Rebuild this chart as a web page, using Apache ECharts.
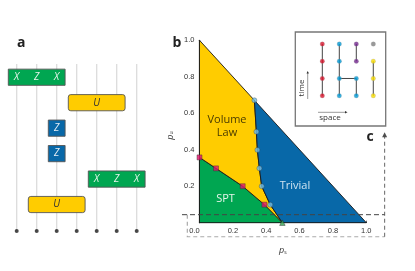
<!DOCTYPE html>
<html><head><meta charset="utf-8">
<style>html,body{margin:0;padding:0;background:#fff}#c{width:415px;height:271px}</style>
<script src="https://cdn.jsdelivr.net/npm/echarts@6/dist/echarts.min.js"></script>
</head><body><div id="c"></div>
<script>
const FONT = '"Open Sans", sans-serif';
const TICKFONT = '"Liberation Sans", sans-serif';
const gateStart = [0, 3, 2, 2, 4, 1];
const gateEnd = [2, 5, 2, 2, 6, 3];
const gateLayer = [0, 1, 2, 3, 4, 5];
const gateKind = ['XZX', 'U', 'Z', 'Z', 'XZX', 'U'];
const wires = [0, 1, 2, 3, 4, 5, 6];
const KIND_COLOR = { XZX: '#00a651', U: '#ffcc00', Z: '#0868a8' };

const volTrivPs = [0.329, 0.341, 0.347, 0.359, 0.373, 0.424];
const volTrivPu = [0.671, 0.499, 0.399, 0.298, 0.200, 0.099];
const sptVolPs = [0.0, 0.099, 0.259, 0.389];
const sptVolPu = [0.358, 0.298, 0.200, 0.099];
const triplePs = [0.497];
const triplePu = [0.0];
const cutPu = 0.044;
const cutLeftPs = -0.105;
const cutRightPs = 1.11;
const boxLeftPs = -0.073;
const boxBottomPu = -0.077;
const arrowTopPu = 0.47;

const insetCols = [0, 0, 0, 0, 1, 1, 1, 1, 2, 2, 2, 2, 3, 3, 3, 3];
const insetRows = [3, 2, 1, 0, 3, 2, 1, 0, 3, 2, 1, 0, 3, 2, 1, 0];
const insetColors = ['#d8132b','#d8132b','#d8132b','#d8132b','#0098d4','#0098d4','#0098d4','#0098d4','#73278f','#73278f','#0098d4','#0098d4','#808080','#f7dc00','#f7dc00','#f7dc00'];
const insetLinks = [[0,0,0,3],[1,0,1,3],[2,2,2,3],[2,0,2,1],[1,1,2,1],[3,0,3,2]];

const chart = echarts.init(document.getElementById('c'), null, { renderer: 'canvas' });

const zip = (a, b) => a.map((v, i) => [v, b[i]]);
const vt = zip(volTrivPs, volTrivPu);
const sv = zip(sptVolPs, sptVolPu);
const tp = [triplePs[0], triplePu[0]];
const polyGreen = [[0, 0], tp, ...sv.slice().reverse()];
const polyYellow = [[0, 1], ...vt, tp, ...sv.slice().reverse()];
const polyBlue = [...vt, tp, [1, 0]];

function poly(color, pts, z) {
  return {
    type: 'custom', xAxisIndex: 0, yAxisIndex: 0, z, silent: true, clip: false,
    coordinateSystem: 'cartesian2d', data: [0],
    renderItem: (p, api) => ({
      type: 'polygon',
      shape: { points: pts.map(q => api.coord(q)) },
      style: { fill: color, stroke: '#1a1a1a', lineWidth: 0.9 }
    })
  };
}
function dashed(pts, color, w, z, dash) {
  return {
    type: 'custom', xAxisIndex: 0, yAxisIndex: 0, z, silent: true, clip: false, data: [0],
    renderItem: (p, api) => ({
      type: 'polyline',
      shape: { points: pts.map(q => api.coord(q)) },
      style: { stroke: color, lineWidth: w, lineDash: dash, fill: null }
    })
  };
}

const axisText = { color: '#333', fontSize: 7.5, fontFamily: TICKFONT };
const hidden = { show: false };

const option = {
  animation: false,
  backgroundColor: '#fff',
  grid: [
    { left: 199.5, top: 40.3, width: 166.8, height: 182.4, show: false },
    { left: 16.7, top: 64, width: 120, height: 167, show: false },
    { left: 295.3, top: 32, width: 90.4, height: 94, show: true, borderColor: '#777', borderWidth: 1.3, backgroundColor: '#fff' }
  ],
  xAxis: [
    { gridIndex: 0, type: 'value', min: 0, max: 1, interval: 0.2, splitLine: hidden, axisLine: { show: true, onZero: false, lineStyle: { color: '#222', width: 1.2 } },
      axisTick: { show: true, inside: true, length: 2, lineStyle: { color: '#222', width: 0.7 } },
      axisLabel: { ...axisText, margin: 4, formatter: v => v === 0 ? '{z|0.0}' : v.toFixed(1),
        rich: { z: { ...axisText, padding: [0, 10, 0, 0] } } },
      name: '{p|p}{s|s}', nameLocation: 'middle', nameGap: 23,
      nameTextStyle: { rich: { p: { fontSize: 9, fontStyle: 'italic', color: '#333', fontFamily: FONT }, s: { fontSize: 5, color: '#333', fontFamily: FONT, verticalAlign: 'bottom', padding: [4, 0, 0, 0] } } } },
    { gridIndex: 1, type: 'value', min: 0, max: 6, show: false },
    { gridIndex: 2, type: 'value', min: -1.59, max: 3.73, show: false }
  ],
  yAxis: [
    { gridIndex: 0, type: 'value', min: 0, max: 1, interval: 0.2, splitLine: hidden, axisLine: { show: true, onZero: false, lineStyle: { color: '#222', width: 1.2 } },
      axisTick: { show: false },
      axisLabel: { ...axisText, margin: 5, formatter: v => v === 0 ? '' : v.toFixed(1) },
      name: '{p|p}{s|u}', nameLocation: 'middle', nameGap: 25, nameRotate: 90,
      nameTextStyle: { padding: [0, 8, 0, 0], rich: { p: { fontSize: 9, fontStyle: 'italic', color: '#333', fontFamily: FONT }, s: { fontSize: 5, color: '#333', fontFamily: FONT, padding: [4, 0, 0, 0] } } } },
    { gridIndex: 1, type: 'value', min: -0.52, max: 6.04, inverse: true, show: false },
    { gridIndex: 2, type: 'value', min: -1.76, max: 3.7, show: false }
  ],
  series: [
    { type: 'custom', xAxisIndex: 1, yAxisIndex: 1, z: 1, silent: true, clip: false, data: wires,
      renderItem: (p, api) => {
        const a = api.coord([api.value(0), -0.52]);
        const b = api.coord([api.value(0), 6.04]);
        return { type: 'line', shape: { x1: a[0], y1: a[1], x2: b[0], y2: b[1] }, style: { stroke: '#dcdcdc', lineWidth: 1.3 } };
      } },
    { type: 'scatter', xAxisIndex: 1, yAxisIndex: 1, z: 2, silent: true, clip: false, symbolSize: 4,
      itemStyle: { color: '#1c1c1c' }, data: wires.map(w => [w, 6.04]) },
    { type: 'custom', xAxisIndex: 1, yAxisIndex: 1, z: 3, silent: true, clip: false, data: gateStart.map((s, i) => i),
      renderItem: (p, api) => {
        const i = api.value(0);
        const kind = gateKind[i];
        const l = api.coord([gateStart[i], gateLayer[i]]);
        const r = api.coord([gateEnd[i], gateLayer[i]]);
        const pad = 8.4;
        const x = l[0] - pad, w = r[0] - l[0] + 2 * pad;
        const h = 16.2, y = l[1] - h / 2;
        const kids = [{ type: 'rect', shape: { x, y, width: w, height: h, r: kind === 'U' ? 2.5 : 0 },
          style: { fill: KIND_COLOR[kind], stroke: '#555', lineWidth: 0.9 } }];
        const txt = (t, cx, c) => ({ type: 'text', style: { text: t, x: cx, y: l[1], fill: c, font: 'italic 10px ' + FONT, textAlign: 'center', textVerticalAlign: 'middle' } });
        if (kind === 'XZX') {
          ['X', 'Z', 'X'].forEach((t, k) => kids.push(txt(t, api.coord([gateStart[i] + k, 0])[0], '#e8f5ec')));
        } else if (kind === 'U') {
          kids.push(txt('U', (l[0] + r[0]) / 2, '#333'));
        } else {
          kids.push(txt('Z', l[0], '#e6eef5'));
        }
        return { type: 'group', children: kids };
      } },
    poly('#00a651', polyGreen, 3),
    poly('#ffcc00', polyYellow, 4),
    poly('#0868a8', polyBlue, 5),
    dashed([[cutLeftPs, cutPu], [cutRightPs, cutPu]], '#444', 1, 8, [5, 3]),
    dashed([[boxLeftPs, cutPu], [boxLeftPs, boxBottomPu], [cutRightPs, boxBottomPu]], '#aaa', 1.2, 7, [4, 3]),
    dashed([[cutRightPs, boxBottomPu], [cutRightPs, arrowTopPu]], '#555', 0.9, 7, [4, 3]),
    { type: 'scatter', xAxisIndex: 0, yAxisIndex: 0, z: 9, silent: true, clip: false, symbol: 'triangle', symbolSize: [5, 5],
      itemStyle: { color: '#222' }, data: [[cutRightPs, arrowTopPu + 0.012]] },
    { type: 'scatter', xAxisIndex: 0, yAxisIndex: 0, z: 10, silent: true, clip: false, symbol: 'circle', symbolSize: 5,
      itemStyle: { color: '#6fbde6', borderColor: '#333', borderWidth: 0.4 }, data: vt },
    { type: 'scatter', xAxisIndex: 0, yAxisIndex: 0, z: 10, silent: true, clip: false, symbol: 'rect', symbolSize: 5,
      itemStyle: { color: '#e0156b', borderColor: '#333', borderWidth: 0.5 }, data: sv },
    { type: 'scatter', xAxisIndex: 0, yAxisIndex: 0, z: 10, silent: true, clip: false, symbol: 'triangle', symbolSize: 5.5,
      itemStyle: { color: '#3aa655', borderColor: '#222', borderWidth: 0.5 }, data: [tp] },
    { type: 'custom', xAxisIndex: 2, yAxisIndex: 2, z: 11, silent: true, clip: false, data: insetLinks.map((l, i) => i),
      renderItem: (p, api) => {
        const l = insetLinks[api.value(0)];
        const a = api.coord([l[0], l[1]]), b = api.coord([l[2], l[3]]);
        return { type: 'line', shape: { x1: a[0], y1: a[1], x2: b[0], y2: b[1] }, style: { stroke: '#444', lineWidth: 1 } };
      } },
    { type: 'scatter', xAxisIndex: 2, yAxisIndex: 2, z: 12, silent: true, symbolSize: 4.5,
      data: insetCols.map((c, i) => ({ value: [c, insetRows[i]], itemStyle: { color: insetColors[i], borderColor: '#999', borderWidth: 0.3 } })) }
  ],
  graphic: [
    { type: 'text', left: 17, top: 36, z: 20, style: { text: 'a', font: 'bold 14px ' + FONT, fill: '#222' } },
    { type: 'text', left: 172.5, top: 36, z: 20, style: { text: 'b', font: 'bold 14px ' + FONT, fill: '#222' } },
    { type: 'text', left: 366.5, top: 130, z: 20, style: { text: 'c', font: 'bold 14px ' + FONT, fill: '#222' } },
    { type: 'text', x: 227, y: 120, z: 20, style: { text: 'Volume', font: '11px ' + FONT, fill: '#4a3c00', textAlign: 'center', textVerticalAlign: 'middle' } },
    { type: 'text', x: 227, y: 133, z: 20, style: { text: 'Law', font: '11px ' + FONT, fill: '#4a3c00', textAlign: 'center', textVerticalAlign: 'middle' } },
    { type: 'text', x: 225.5, y: 199, z: 20, style: { text: 'SPT', font: '11px ' + FONT, fill: '#e6f5ea', textAlign: 'center', textVerticalAlign: 'middle' } },
    { type: 'text', x: 295, y: 186, z: 20, style: { text: 'Trivial', font: '11px ' + FONT, fill: '#cfe3f1', textAlign: 'center', textVerticalAlign: 'middle' } },
    { type: 'text', x: 302, y: 88, rotation: Math.PI / 2, z: 20, style: { text: 'time', font: '8px ' + FONT, fill: '#333', textAlign: 'center', textVerticalAlign: 'middle' } },
    { type: 'text', x: 330, y: 118, z: 20, style: { text: 'space', font: '8px ' + FONT, fill: '#333', textAlign: 'center', textVerticalAlign: 'middle' } },
    { type: 'line', z: 20, shape: { x1: 307.7, y1: 99, x2: 307.7, y2: 72 }, style: { stroke: '#555', lineWidth: 0.6 } },
    { type: 'polygon', z: 20, shape: { points: [[307.7, 71], [306.5, 73.5], [308.9, 73.5]] }, style: { fill: '#333' } },
    { type: 'line', z: 20, shape: { x1: 318, y1: 112.3, x2: 346, y2: 112.3 }, style: { stroke: '#555', lineWidth: 0.6 } },
    { type: 'polygon', z: 20, shape: { points: [[347.5, 112.3], [345, 111.1], [345, 113.5]] }, style: { fill: '#333' } }
  ]
};
chart.setOption(option);
</script></body></html>
